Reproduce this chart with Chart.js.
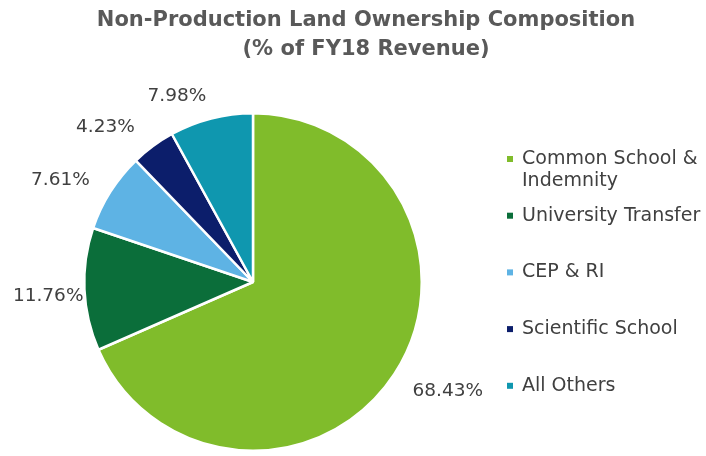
<!DOCTYPE html>
<html>
<head>
<meta charset="utf-8">
<script src="https://cdn.jsdelivr.net/npm/chart.js@4/dist/chart.umd.min.js"></script>
<style>
  html, body { margin: 0; padding: 0; background: #ffffff; }
  #wrap { width: 706px; height: 456px; position: relative; }
</style>
</head>
<body>
<div id="wrap"><canvas id="ChartOwnership"></canvas></div>
<script>
const titleLines = ["Non-Production Land Ownership Composition", "(% of FY18 Revenue)"];
const categories = [
    ["Common School &", "Indemnity"],
    ["University Transfer"],
    ["CEP & RI"],
    ["Scientific School"],
    ["All Others"],
];
const shares = [68.43, 11.76, 7.61, 4.23, 7.98];
const sliceColors = ["#80BC2B", "#0B6E3A", "#5EB3E4", "#0C1E6B", "#0F97AF"];

const FONT = "'DejaVu Sans', Verdana, sans-serif";

// draws the title, the outside percentage labels and the right-hand legend
const decorations = {
    id: "decorations",
    afterDraw(chart, args, opts) {
        const ctx = chart.ctx;
        const area = chart.chartArea;
        ctx.save();

        // title
        ctx.fillStyle = "#595959";
        ctx.font = "bold 21px " + FONT;
        ctx.textAlign = "center";
        ctx.textBaseline = "middle";
        titleLines.forEach((line, i) => ctx.fillText(line, 366, 21 + i * 29));

        // percentage labels just outside each slice (nudged like the original "best fit")
        ctx.font = "18.5px " + FONT;
        ctx.fillStyle = "#404040";
        ctx.textBaseline = "middle";
        chart.getDatasetMeta(0).data.forEach((arc, i) => {
            const p = arc.getProps(["x", "y", "startAngle", "endAngle", "outerRadius"], true);
            const mid = (p.startAngle + p.endAngle) / 2;
            const r = p.outerRadius + 12;
            const cos = Math.cos(mid), sin = Math.sin(mid);
            const text = shares[i].toFixed(2) + "%";
            const w = ctx.measureText(text).width;
            const [nx, ny] = opts.nudge[i] || [0, 0];
            ctx.textAlign = "left";
            ctx.fillText(text, p.x + r * cos + ((cos - 1) / 2) * w + nx, p.y + r * sin + sin * 8 + ny);
        });

        // legend
        const lx = area.right + 84;
        let y = area.top + 47;
        ctx.font = "19px " + FONT;
        ctx.textAlign = "left";
        categories.forEach((lines, i) => {
            ctx.fillStyle = sliceColors[i];
            ctx.fillRect(lx, y - 3, 6, 6);
            ctx.fillStyle = "#404040";
            lines.forEach((line, j) => ctx.fillText(line, lx + 15, y + j * 22));
            y += 56.7;
        });

        ctx.restore();
    },
};

new Chart(document.getElementById("ChartOwnership"), {
    type: "pie",
    data: {
        labels: categories.map((c) => c.join(" ")),
        datasets: [
            {
                data: shares,
                backgroundColor: sliceColors,
                borderColor: "#ffffff",
                borderWidth: 2.5,
            },
        ],
    },
    options: {
        responsive: true,
        maintainAspectRatio: false,
        animation: false,
        layout: { padding: { left: 83, right: 283, top: 112, bottom: 4 } },
        plugins: {
            legend: { display: false },
            title: { display: false },
            tooltip: { enabled: false },
            decorations: { nudge: [[14, 6], [11, 6], [-15, -1], [-23, -3], [-24, -3]] },
        },
    },
    plugins: [decorations],
});
</script>
</body>
</html>
